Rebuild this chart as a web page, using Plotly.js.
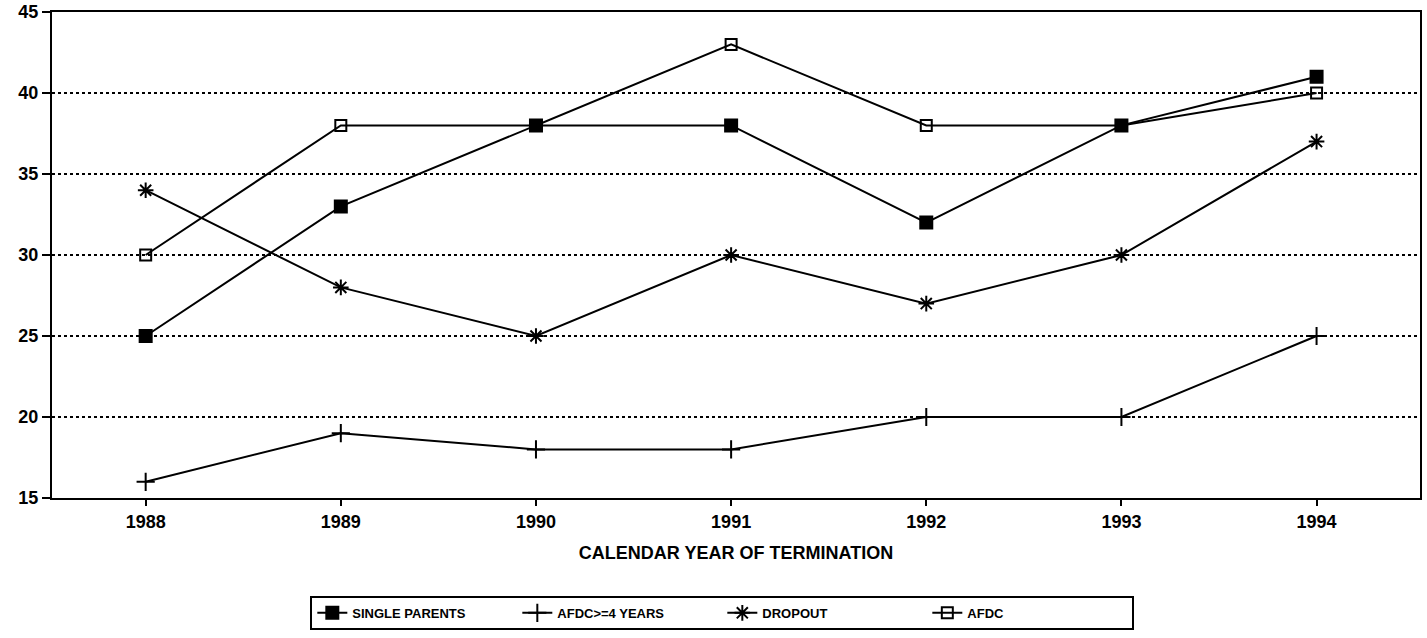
<!DOCTYPE html>
<html>
<head>
<meta charset="utf-8">
<script src="https://cdn.plot.ly/plotly-3.0.1.min.js"></script>
<style>
  html, body { margin: 0; padding: 0; background: white; }
  #chart { width: 1427px; height: 638px; }
</style>
</head>
<body>
<div id="chart"></div>
<script>
const years = [1988, 1989, 1990, 1991, 1992, 1993, 1994];

const singleParents = [25, 33, 38, 38, 32, 38, 41];
const afdc4Years = [16, 19, 18, 18, 20, 20, 25];
const dropout = [34, 28, 25, 30, 27, 30, 37];
const afdc = [30, 38, 38, 43, 38, 38, 40];

const font = 'Liberation Sans, Arial, sans-serif';

function series(name, y, symbol, size) {
  return {
    name: name,
    x: years,
    y: y,
    type: 'scatter',
    mode: 'lines+markers',
    line: { color: 'black', width: 2 },
    marker: { symbol: symbol, size: size, color: 'black', line: { color: 'black', width: 2 } },
    cliponaxis: false
  };
}

const traces = [
  series('<b>SINGLE PARENTS</b>', singleParents, 'square', 12),
  series('<b>AFDC>=4 YEARS</b>', afdc4Years, 'cross-thin-open', 13),
  series('<b>DROPOUT</b>', dropout, 'asterisk-open', 13),
  series('<b>AFDC</b>', afdc, 'square-open', 11)
];

const layout = {
  width: 1427,
  height: 638,
  paper_bgcolor: 'white',
  plot_bgcolor: 'white',
  margin: { l: 52, r: 7, t: 12, b: 140, autoexpand: false },
  font: { family: font, color: 'black' },
  showlegend: true,
  xaxis: {
    range: [1987.52, 1994.53],
    tickvals: years,
    ticktext: years.map(y => '<b>' + y + '</b>'),
    ticks: 'outside',
    ticklen: 6,
    tickwidth: 2,
    tickcolor: 'black',
    showgrid: false,
    zeroline: false,
    showline: true,
    linecolor: 'black',
    linewidth: 2,
    mirror: true,
    tickfont: { family: font, size: 18, color: 'black' },
    title: {
      text: '<b>CALENDAR YEAR OF TERMINATION</b>',
      font: { family: font, size: 18, color: 'black' },
      standoff: 16
    }
  },
  yaxis: {
    range: [15, 45],
    tickvals: [15, 20, 25, 30, 35, 40, 45],
    ticktext: ['15', '20', '25', '30', '35', '40', '45'].map(t => '<b>' + t + '</b>'),
    ticks: 'outside',
    ticklen: 8,
    tickwidth: 2,
    tickcolor: 'black',
    showgrid: true,
    gridcolor: 'black',
    gridwidth: 1.5,
    griddash: 'dot',
    zeroline: false,
    showline: true,
    linecolor: 'black',
    linewidth: 2,
    mirror: true,
    tickfont: { family: font, size: 18, color: 'black' }
  },
  legend: {
    orientation: 'h',
    x: 0.49,
    xanchor: 'center',
    yref: 'container',
    y: 0.066,
    yanchor: 'top',
    bordercolor: 'black',
    borderwidth: 2,
    entrywidth: 160,
    itemwidth: 30,
    font: { family: font, size: 13, color: 'black' }
  }
};

Plotly.newPlot('chart', traces, layout, { displayModeBar: false, staticPlot: true });
</script>
</body>
</html>
